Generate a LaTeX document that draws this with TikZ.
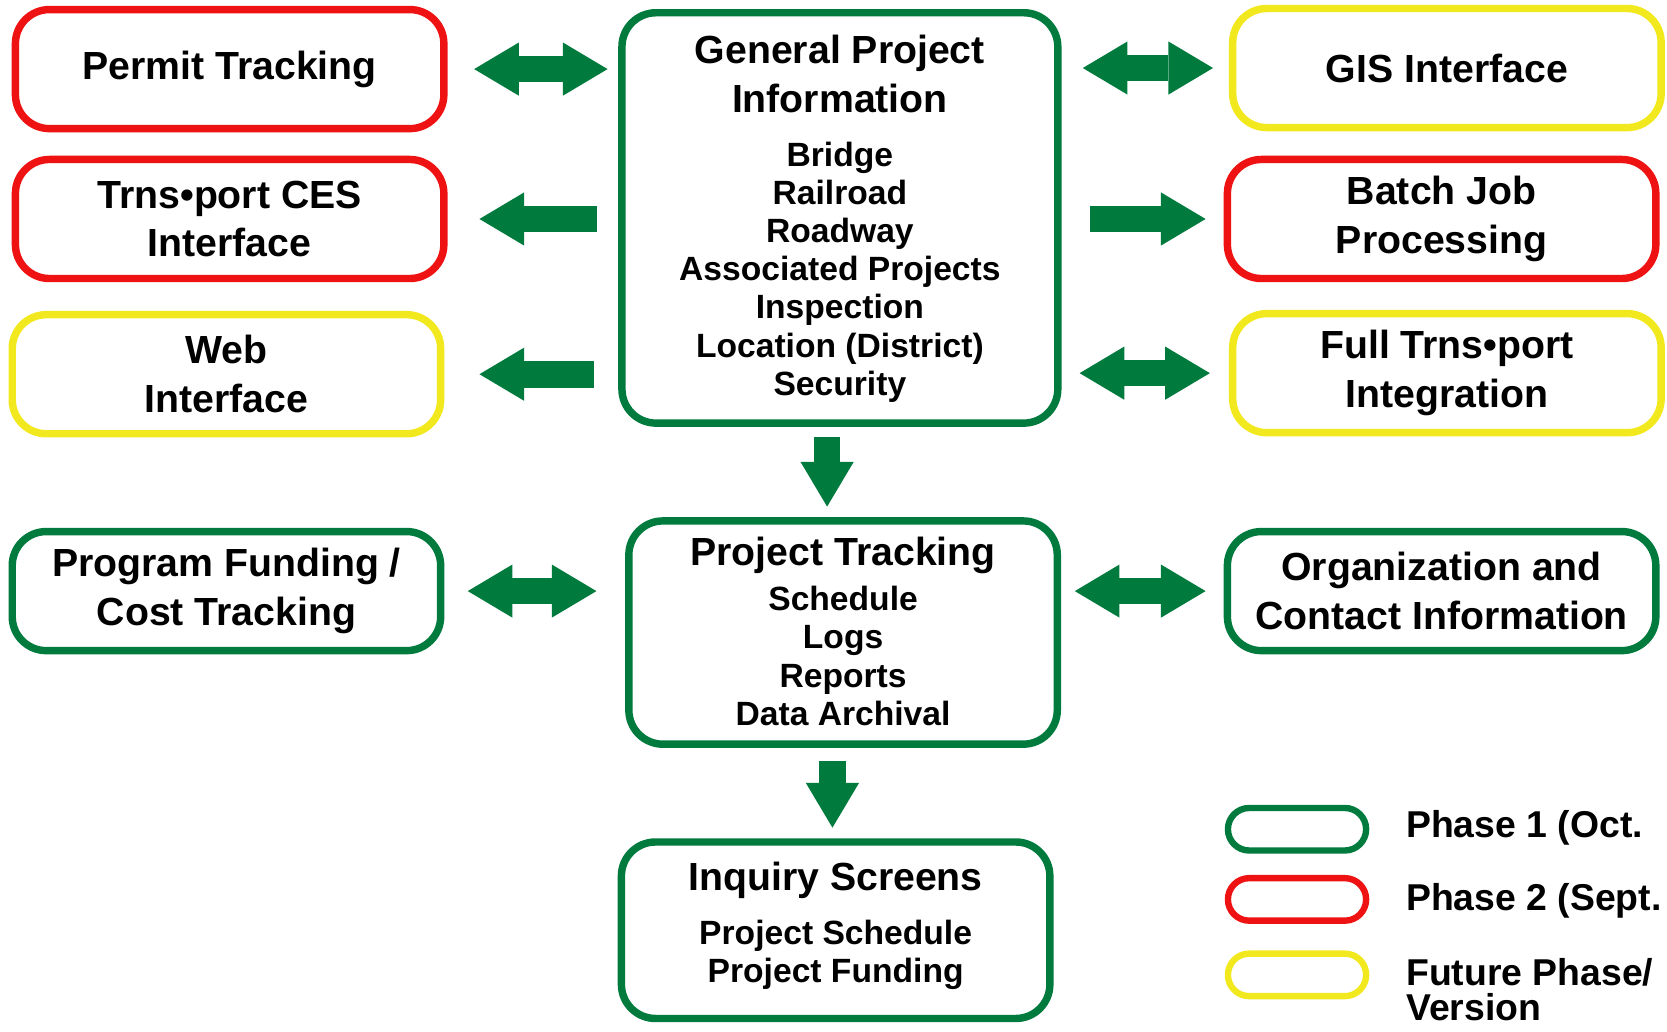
\documentclass[tikz,border=0pt]{standalone}
\usepackage{fontspec}
\setmainfont{Liberation Sans}
\usetikzlibrary{arrows.meta}
\definecolor{pgreen}{RGB}{0,122,61}
\definecolor{pred}{RGB}{238,18,18}
\definecolor{pyellow}{RGB}{242,232,30}
\newcommand{\boxhead}{\bfseries\fontsize{10.5}{13.1}\selectfont}
\newcommand{\boxitem}{\bfseries\fontsize{9}{10.2}\selectfont}
\newcommand{\legendfont}{\bfseries\fontsize{10}{9.4}\selectfont}
\tikzset{
	box/.style={draw=#1, line width=0.7mm, rounded corners=3.2mm, minimum width=40.3mm, minimum height=11.2mm, align=center, inner sep=0pt, font=\boxhead},
	head/.style={align=center, inner sep=0pt, font=\boxhead},
	items/.style={align=center, inner sep=0pt, font=\boxitem},
	legend/.style={draw=#1, line width=0.6mm, rounded corners=2mm, minimum width=13mm, minimum height=4mm, inner sep=0pt},
	legendtext/.style={anchor=west, align=left, inner sep=0pt, font=\legendfont},
	oneway/.style={draw=pgreen, line width=2.5mm, -{Triangle[length=4.2mm, width=5mm, line width=0pt]}},
	twoway/.style={draw=pgreen, line width=2.5mm, {Triangle[length=4.2mm, width=5mm, line width=0pt]}-{Triangle[length=4.2mm, width=5mm, line width=0pt]}},
}
\begin{document}
\begin{tikzpicture}[x=0.1mm, y=-0.1mm, line join=round]
	\useasboundingbox (0,0) rectangle (1568,970);
	%\draw[color=gray!50,dashed,step=100] (0,0) grid (1568,970);
	% left column
	\node[box=pred] (permit) at (216,65) {Permit Tracking};
	\node[box=pred] (ces) at (216,206) {Trns•port CES\\Interface};
	\node[box=pyellow] (web) at (213,352) {Web\\Interface};
	\node[box=pgreen] (funding) at (213,556) {Program Funding /\\Cost Tracking};
	% middle column
	\node[box=pgreen, minimum width=41mm, minimum height=38.6mm] (gpi) at (790,205) {};
	\node[head] (gpi-head) at (790,70) {General Project\\Information};
	\node[items] (gpi-items) at (790,256) {Bridge\\Railroad\\Roadway\\Associated Projects\\Inspection\\Location (District)\\Security};
	\node[box=pgreen, minimum height=21mm] (track) at (793,595) {};
	\node[head] (track-head) at (793,522) {Project Tracking};
	\node[items] (track-items) at (793,617) {Schedule\\Logs\\Reports\\Data Archival};
	\node[box=pgreen, minimum height=16.6mm] (inq) at (786,875) {};
	\node[head] (inq-head) at (786,828) {Inquiry Screens};
	\node[items] (inq-items) at (786,898) {Project Schedule\\Project Funding};
	% right column
	\node[box=pyellow] (gis) at (1361,64) {GIS Interface};
	\node[box=pred] (batch) at (1356,206) {Batch Job\\Processing};
	\node[box=pyellow] (full) at (1361,351) {Full Trns•port\\Integration};
	\node[box=pgreen] (org) at (1356,556) {Organization and\\Contact Information};
	% arrows
	\draw[twoway, shorten <=2.5mm, shorten >=1mm] (permit.east) -- (permit.east -| gpi.west);
	\draw[oneway, shorten <=2mm, shorten >=3mm] (ces.east -| gpi.west) -- (ces.east);
	\draw[oneway, shorten <=2.3mm, shorten >=3.3mm] (web.east -| gpi.west) -- (web.east);
	\draw[twoway, shorten <=2mm, shorten >=1.5mm] (gis.west -| gpi.east) -- (gis.west);
	\draw[oneway, shorten <=2.7mm, shorten >=1.7mm] (batch.west -| gpi.east) -- (batch.west);
	\draw[twoway, shorten <=1.7mm, shorten >=1.8mm] (full.west -| gpi.east) -- (full.west);
	\draw[oneway, shorten <=1mm, shorten >=1mm] ([xshift=-1.2mm]gpi.south) -- ([xshift=-1.2mm]gpi.south |- track.north);
	\draw[twoway, shorten <=2.2mm, shorten >=2.7mm] (funding.east) -- (funding.east -| track.west);
	\draw[twoway, shorten <=1.3mm, shorten >=1.7mm] (org.west -| track.east) -- (org.west);
	\draw[oneway, shorten <=1.2mm, shorten >=1mm] ([xshift=-1mm]track.south) -- ([xshift=-1mm]track.south |- inq.north);
	% legend
	\node[legend=pgreen] (leg1) at (1220,780) {};
	\node[legend=pred] (leg2) at (1220,846) {};
	\node[legend=pyellow] (leg3) at (1220,917) {};
	\node[legendtext] (leg1-text) at (1322,779) {Phase 1 (Oct.};
	\node[legendtext] (leg2-text) at (1322,847) {Phase 2 (Sept.};
	\node[legendtext] (leg3-text) at (1322,931) {Future Phase/\\Version};
\end{tikzpicture}
\end{document}
